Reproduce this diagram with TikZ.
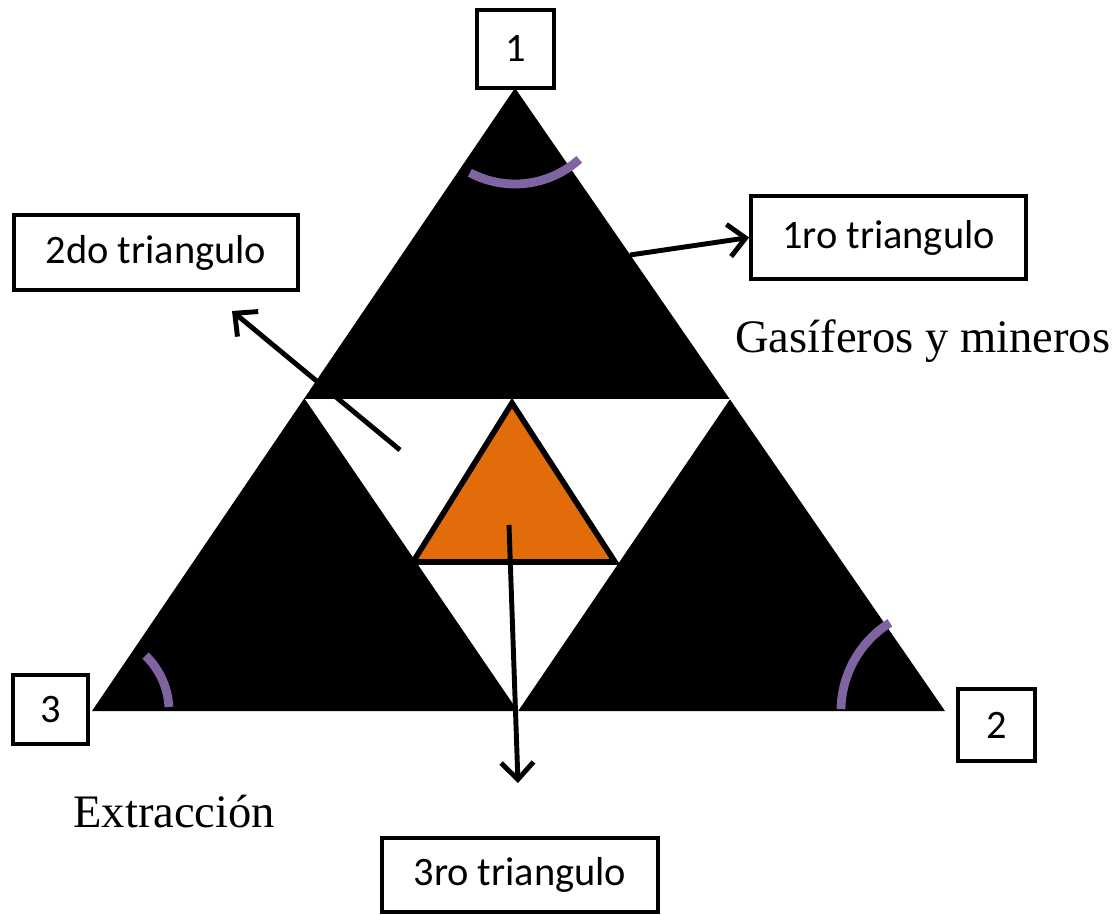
\documentclass[tikz,border=0pt]{standalone}
\usepackage{fontspec}
\setmainfont{Liberation Serif}
\newfontfamily\boxfont{Carlito}
\usetikzlibrary{arrows.meta}
\definecolor{arccolor}{RGB}{128,100,162}
\definecolor{coreorange}{RGB}{227,108,10}

\begin{document}
\begin{tikzpicture}[x=0.02cm, y=-0.02cm,
    label box/.style={draw, line width=2.2pt, fill=white, inner sep=0pt, font=\boxfont\fontsize{23}{28}\selectfont},
    arrow/.style={->, line width=2.8pt, >={Straight Barb[length=3.4mm,width=6.5mm]}},
    angle mark/.style={arccolor, line width=5pt},
    caption/.style={anchor=base west, inner sep=0pt, font=\fontsize{26.5}{32}\selectfont}
]
\useasboundingbox (0,0) rectangle (1115,915);

% Corners of the big triangle
\coordinate (v1) at (515,88);
\coordinate (v2) at (945,711);
\coordinate (v3) at (92,711);

% Midpoints (inner white triangle)
\coordinate (m12) at (730,399);
\coordinate (m13) at (305,399);
\coordinate (m23) at (518,711);

% Orange core
\coordinate (o1) at (512,403);
\coordinate (o2) at (615,562);
\coordinate (o3) at (413,562);

\fill[black] (v1) -- (v2) -- (v3) -- cycle;
\fill[white] (m13) -- (m12) -- (m23) -- cycle;
\filldraw[fill=coreorange, draw=black, line width=3.2pt] (o1) -- (o2) -- (o3) -- cycle;

% Angle marks
\draw[angle mark] ([shift={(118:96)}]v1) arc[start angle=118, end angle=48, radius=96];
\draw[angle mark] ([shift={(-46:77)}]v3) arc[start angle=-46, end angle=-3, radius=77];
\draw[angle mark] ([shift={(238:104)}]v2) arc[start angle=238, end angle=181, radius=104];

% Corner labels
\node[label box, minimum width=1.54cm, minimum height=1.56cm] (n1) at (515.5,49) {1};
\node[label box, minimum width=1.54cm, minimum height=1.44cm] (n2) at (996.5,725) {2};
\node[label box, minimum width=1.50cm, minimum height=1.38cm] (n3) at (50.5,709.5) {3};

% Triangle labels
\node[label box, minimum width=5.50cm, minimum height=1.66cm] (r1) at (888.5,237.5) {1ro triangulo};
\node[label box, minimum width=5.68cm, minimum height=1.50cm] (r2) at (156,252.5) {2do triangulo};
\node[label box, minimum width=5.52cm, minimum height=1.48cm] (r3) at (520,875) {3ro triangulo};

% Arrows
\coordinate (t1) at (630,255);
\coordinate (t2) at (400,450);
\coordinate (h2) at (232,311);
\coordinate (t3) at (509,525);
\coordinate (h3) at (518,783);
\draw[arrow] (t1) -- (r1.west);
\draw[arrow] (t2) -- (h2);
\draw[arrow] (t3) -- (h3);

% Captions
\node[caption] (gas) at (735,353) {Gasíferos y mineros};
\node[caption] (ext) at (73,827) {Extracción};

\end{tikzpicture}
\end{document}
